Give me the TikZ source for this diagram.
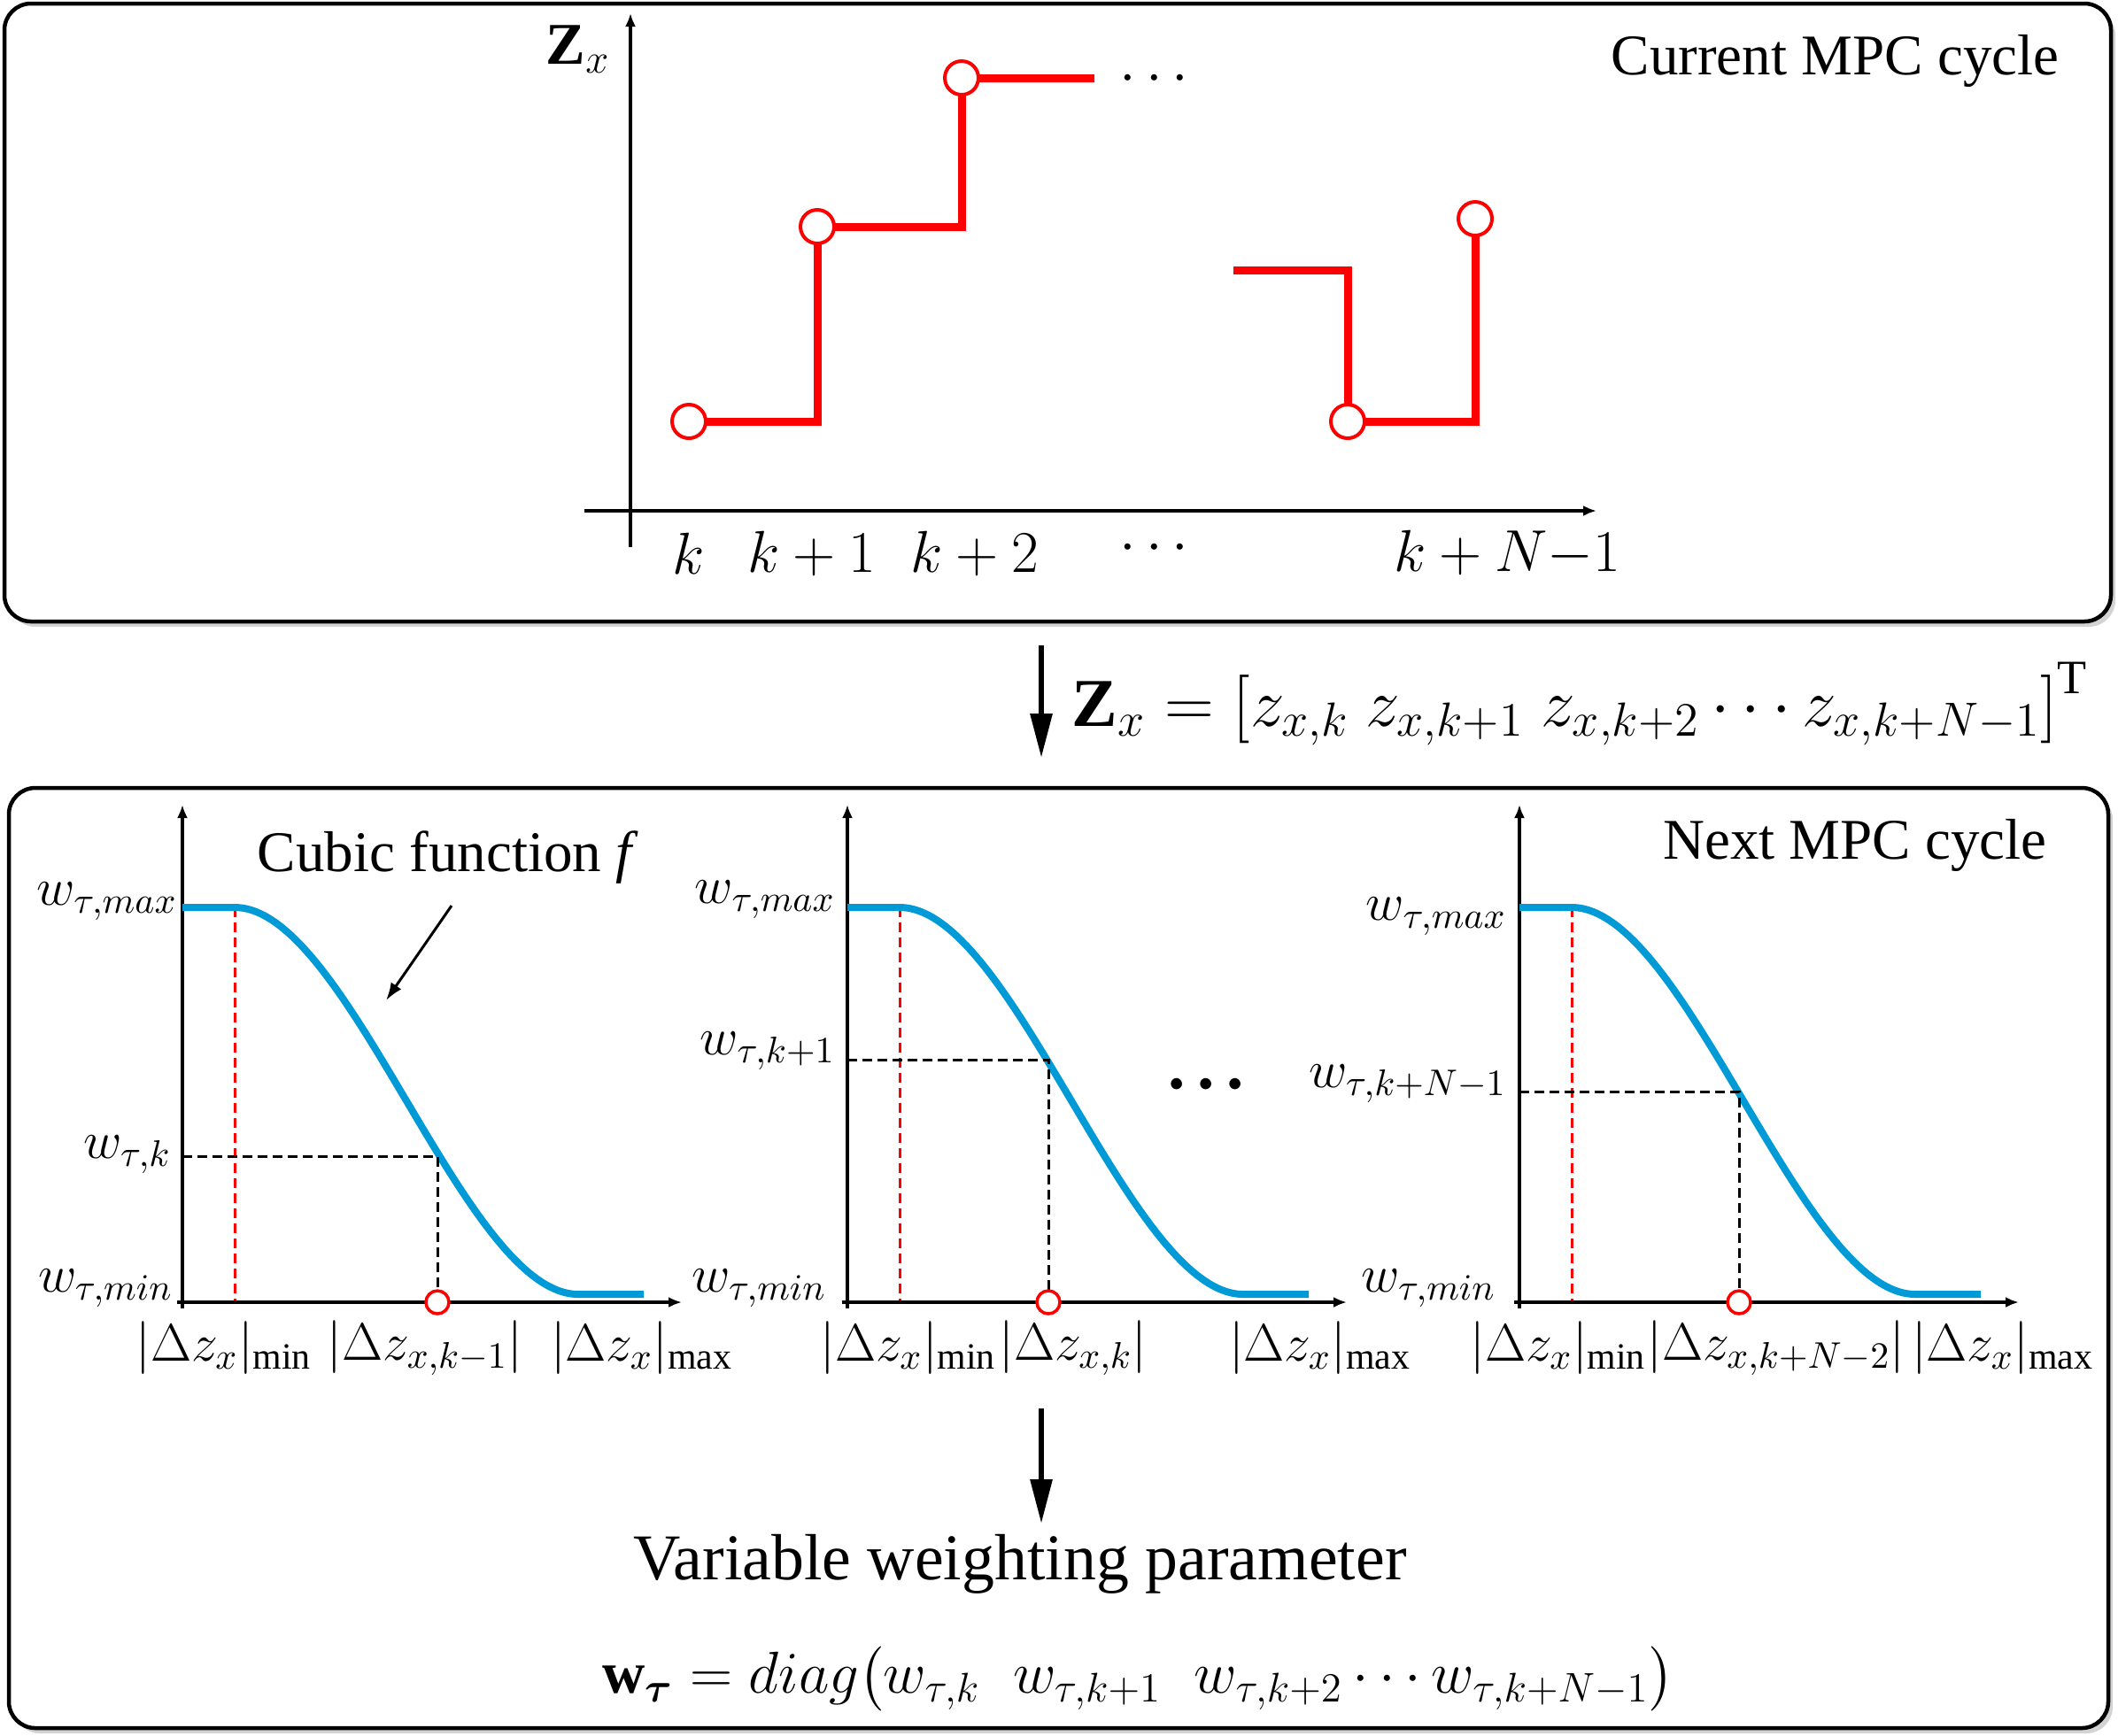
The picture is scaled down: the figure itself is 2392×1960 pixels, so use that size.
\RequirePackage{fix-cm}
\documentclass[tikz,border=0pt]{standalone}
\usepackage{amsmath}
\usepackage{fontspec}
\setmainfont{Liberation Serif}
\usepackage{tikz}
\usetikzlibrary{arrows.meta,shadows}
\definecolor{curveblue}{RGB}{0,155,215}
\def\cubicplot(#1){%
	\draw[plotaxis] ({#1+206}, 1478) -- ({#1+206}, 909);
	\draw[plotaxis] ({#1+200}, 1471) -- ({#1+770}, 1471);
	\draw[reddash] ({#1+265}, 1025) -- ({#1+265}, 1469);
	\draw[cubiccurve] ({#1+206}, 1025) -- ({#1+265}, 1025) .. controls ({#1+394}, 1025) and ({#1+524}, 1462) .. ({#1+653}, 1462) -- ({#1+727}, 1462);
}

\begin{document}
\begin{tikzpicture}[x=0.1mm, y=-0.1mm,
	panel/.style={line width=0.45mm, rounded corners=3mm, fill=white, drop shadow={shadow xshift=0.5mm, shadow yshift=-0.6mm, opacity=0.35}},
	plotaxis/.style={line width=0.4mm, -{Latex[length=1.5mm, width=1.2mm]}},
	stepline/.style={red, line width=0.9mm, line join=miter},
	stepdot/.style={draw=red, line width=0.4mm, fill=white},
	cubiccurve/.style={curveblue, line width=0.8mm},
	reddash/.style={red, line width=0.3mm, dash pattern=on 1.1mm off 0.6mm},
	blackdash/.style={black, line width=0.3mm, dash pattern=on 1.1mm off 0.6mm},
	ptmark/.style={draw=red, line width=0.35mm, fill=white},
	bigarrow/.style={line width=0.6mm, -{Triangle[length=5mm, width=2.4mm]}},
	thinarrow/.style={line width=0.3mm, -{Latex[length=2mm, width=1.4mm]}},
	cycletext/.style={font=\fontsize{18.5}{22}\selectfont, inner sep=0pt},
	bigtext/.style={font=\fontsize{21}{25}\selectfont, inner sep=0pt},
	mathlbl/.style={font=\fontsize{17}{21}\selectfont, inner sep=0pt},
	formula/.style={font=\fontsize{22}{26}\selectfont, inner sep=0pt}]
			%%%%% START %%%%%
			\useasboundingbox (0, 0) rectangle (2392, 1960);
			
			\draw[panel] (5, 4) rectangle (2384, 702);
			\draw[panel] (10, 890) rectangle (2381, 1952);
			
			% current cycle
			\draw[plotaxis] (712, 618) -- (712, 15);
			\draw[plotaxis] (660, 577) -- (1803, 577);
			\node[mathlbl, font=\fontsize{19}{23}\selectfont] (zx) at (653, 56) {$\mathbf{Z}_x$};
			
			\draw[stepline] (778, 476) -- (923, 476) -- (923, 256) -- (1086, 256) -- (1086, 88) -- (1236, 88);
			\draw[stepline] (1393, 305) -- (1522, 305) -- (1522, 476) -- (1666, 476) -- (1666, 247);
			\draw[stepdot] (778, 476) circle (19);
			\draw[stepdot] (923, 256) circle (19);
			\draw[stepdot] (1086, 88) circle (19);
			\draw[stepdot] (1522, 476) circle (19);
			\draw[stepdot] (1666, 247) circle (19);
			\node[mathlbl, font=\fontsize{19}{23}\selectfont] (topdots) at (1309, 90) {$\cdots$};
			
			\node[mathlbl, font=\fontsize{19}{23}\selectfont] (tk0) at (778, 625) {$k$};
			\node[mathlbl, font=\fontsize{19}{23}\selectfont] (tk1) at (917, 625) {$k+1$};
			\node[mathlbl, font=\fontsize{19}{23}\selectfont] (tk2) at (1101, 625) {$k+2$};
			\node[mathlbl, font=\fontsize{19}{23}\selectfont] (tkd) at (1309, 620) {$\cdots$};
			\node[mathlbl, font=\fontsize{19}{23}\selectfont] (tkN) at (1702, 625) {$k+N{-}1$};
			
			\node[cycletext, anchor=east] (cur) at (2326, 69) {Current MPC cycle};
			
			% vector of the horizon
			\coordinate (a1s) at (1176, 729);
			\coordinate (a1e) at (1176, 856);
			\draw[bigarrow] (a1s) -- (a1e);
			\node[formula, anchor=west] (zvec) at (1210, 795) {$\mathbf{Z}_x = \left[z_{x,k}\ z_{x,k+1}\ z_{x,k+2}\cdots z_{x,k+N-1}\right]^{\mathrm{T}}$};
			
			% next cycle
			\cubicplot(0)
			\cubicplot(751)
			\cubicplot(1510)
			
			\draw[blackdash] (206, 1306) -- (494, 1306) -- (494, 1471);
			\draw[ptmark] (494, 1471) circle (13);
			\draw[blackdash] (957, 1197) -- (1184, 1197) -- (1184, 1471);
			\draw[ptmark] (1184, 1471) circle (13);
			\draw[blackdash] (1716, 1233) -- (1964, 1233) -- (1964, 1471);
			\draw[ptmark] (1964, 1471) circle (13);
			
			\node[mathlbl, anchor=east] (wmax1) at (201, 1018) {$w_{\tau,max}$};
			\node[mathlbl, anchor=east] (wk1) at (194, 1304) {$w_{\tau,k}$};
			\node[mathlbl, anchor=east] (wmin1) at (196, 1455) {$w_{\tau,min}$};
			\node[mathlbl, anchor=east] (wmax2) at (944, 1016) {$w_{\tau,max}$};
			\node[mathlbl, anchor=east] (wk2) at (944, 1187) {$w_{\tau,k+1}$};
			\node[mathlbl, anchor=east] (wmin2) at (934, 1455) {$w_{\tau,min}$};
			\node[mathlbl, anchor=east] (wmax3) at (1702, 1035) {$w_{\tau,max}$};
			\node[mathlbl, anchor=east] (wk3) at (1702, 1224) {$w_{\tau,k+N-1}$};
			\node[mathlbl, anchor=east] (wmin3) at (1690, 1455) {$w_{\tau,min}$};
			
			\node[mathlbl] (dmin1) at (253, 1523) {$|\Delta z_x|_{\min}$};
			\node[mathlbl] (dk1) at (480, 1523) {$|\Delta z_{x,k-1}|$};
			\node[mathlbl] (dmax1) at (725, 1523) {$|\Delta z_x|_{\max}$};
			\node[mathlbl] (dmin2) at (1026, 1523) {$|\Delta z_x|_{\min}$};
			\node[mathlbl] (dk2) at (1212, 1523) {$|\Delta z_{x,k}|$};
			\node[mathlbl] (dmax2) at (1491, 1523) {$|\Delta z_x|_{\max}$};
			\node[mathlbl] (dmin3) at (1760, 1523) {$|\Delta z_x|_{\min}$};
			\node[mathlbl] (dk3) at (2006, 1523) {$|\Delta z_{x,k+N-2}|$};
			\node[mathlbl] (dmax3) at (2262, 1523) {$|\Delta z_x|_{\max}$};
			
			\node[mathlbl, font=\fontsize{34}{40}\selectfont] (middots) at (1362, 1228) {${\cdot}{\cdot}{\cdot}$};
			
			\node[cycletext] (cubic) at (506, 969) {Cubic function \textit{f}};
			\coordinate (cubtail) at (510, 1023);
			\coordinate (cubtip) at (436, 1130);
			\draw[thinarrow] (cubtail) -- (cubtip);
			
			\node[cycletext] (nxt) at (2095, 955) {Next MPC cycle};
			
			% result
			\coordinate (a2s) at (1176, 1591);
			\coordinate (a2e) at (1176, 1721);
			\draw[bigarrow] (a2s) -- (a2e);
			\node[bigtext] (vwp) at (1152, 1767) {Variable weighting parameter};
			\node[formula, font=\fontsize{19}{23}\selectfont] (wvec) at (1285, 1896) {$\mathbf{w}_{\boldsymbol{\tau}} = diag\bigl(w_{\tau,k}\;\; w_{\tau,k+1}\;\; w_{\tau,k+2}\cdots w_{\tau,k+N-1}\bigr)$};
			
			%%%%% END %%%%%
\end{tikzpicture}
\end{document}
